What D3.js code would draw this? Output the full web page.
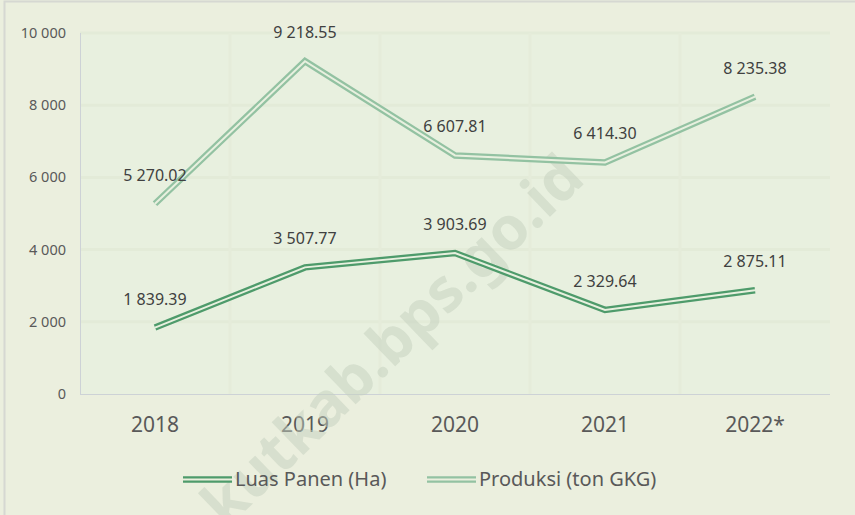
<!DOCTYPE html>
<html lang="id">
<head>
<meta charset="UTF-8">
<title>Luas Panen dan Produksi</title>
<script src="https://cdn.jsdelivr.net/npm/d3@7"></script>
<style>
  html, body { margin: 0; padding: 0; background: #ebefde; }
  svg { display: block; font-family: "Noto Sans", sans-serif; }
</style>
</head>
<body>
<script>
// data
var years = ["2018", "2019", "2020", "2021", "2022*"];
var luasPanen = [1839.39, 3507.77, 3903.69, 2329.64, 2875.11];
var produksi = [5270.02, 9218.55, 6607.81, 6414.30, 8235.38];
var yTicks = [0, 2000, 4000, 6000, 8000, 10000];
var seriesNames = ["Luas Panen (Ha)", "Produksi (ton GKG)"];

var width = 855, height = 515;
var plot = {left: 80, right: 830, top: 33, bottom: 394};
var bg = "#ebefde", plotBg = "#e8f0df";
var colors = ["#4e9b6b", "#93c2a2"];

var svg = d3.select("body").append("svg").attr("width", width).attr("height", height);

// fondo y marco
svg.append("rect").attr("width", width).attr("height", height).attr("fill", bg);
svg.append("rect").attr("x", 4.5).attr("y", 1.5).attr("width", width + 10).attr("height", height + 10)
    .attr("fill", "none").attr("stroke", "#d6d8d2").attr("stroke-width", 2);
svg.append("rect").attr("x", plot.left).attr("y", plot.top)
    .attr("width", plot.right - plot.left).attr("height", plot.bottom - plot.top)
    .attr("fill", plotBg);

// escalas
var x = d3.scalePoint().domain(years).range([plot.left, plot.right]).padding(0.5);
var y = d3.scaleLinear().domain([0, 10000]).range([plot.bottom, plot.top]);
var loc = d3.formatLocale({decimal: ".", thousands: " ", grouping: [3], currency: ["", ""]});
var fmtTick = loc.format(",.0f"), fmtVal = loc.format(",.2f");

// rejilla tenue
svg.append("g").selectAll("line").data(yTicks.slice(1)).enter().append("line")
    .attr("x1", plot.left).attr("x2", plot.right)
    .attr("y1", function (d) { return y(d); }).attr("y2", function (d) { return y(d); })
    .attr("stroke", "#e3ebd8").attr("stroke-width", 3);
var step = x.step();
svg.append("g").selectAll("line").data(years.slice(1)).enter().append("line")
    .attr("x1", function (d) { return x(d) - step / 2; }).attr("x2", function (d) { return x(d) - step / 2; })
    .attr("y1", plot.top).attr("y2", plot.bottom)
    .attr("stroke", "#e5ecda").attr("stroke-width", 3);

// ejes
svg.append("line").attr("x1", plot.left + 0.5).attr("x2", plot.left + 0.5)
    .attr("y1", plot.top).attr("y2", plot.bottom).attr("stroke", "#cdd2d6");
svg.append("line").attr("x1", plot.left).attr("x2", plot.right)
    .attr("y1", plot.bottom + 0.5).attr("y2", plot.bottom + 0.5).attr("stroke", "#cdd2d6");

svg.append("g").selectAll("text").data(yTicks).enter().append("text")
    .attr("x", 66).attr("y", function (d) { return y(d); })
    .attr("dy", "0.35em").attr("text-anchor", "end")
    .attr("font-size", 14.5).attr("fill", "#595959")
    .text(function (d) { return fmtTick(d); });

svg.append("g").selectAll("text").data(years).enter().append("text")
    .attr("x", function (d) { return x(d); }).attr("y", 432)
    .attr("text-anchor", "middle").attr("font-size", 21).attr("fill", "#595959")
    .text(function (d) { return d; });

// marca de agua
svg.append("text")
    .attr("transform", "translate(392,340) rotate(-44)")
    .attr("text-anchor", "middle").attr("dy", "0.35em")
    .attr("font-size", 60).attr("font-weight", "bold")
    .attr("fill", "#c3cfbd").attr("fill-opacity", 0.5)
    .text("kutkab.bps.go.id");

// lineas dobles
var line = d3.line()
    .x(function (d, i) { return x(years[i]); })
    .y(function (d) { return y(d); });

[luasPanen, produksi].forEach(function (vals, k) {
    svg.append("path").attr("d", line(vals)).attr("fill", "none")
        .attr("stroke", colors[k]).attr("stroke-width", 6.5).attr("stroke-linejoin", "miter");
    svg.append("path").attr("d", line(vals)).attr("fill", "none")
        .attr("stroke", plotBg).attr("stroke-width", 2).attr("stroke-linejoin", "miter");
    svg.append("g").selectAll("text").data(vals).enter().append("text")
        .attr("x", function (d, i) { return x(years[i]); })
        .attr("y", function (d) { return y(d) - 23; })
        .attr("text-anchor", "middle").attr("font-size", 16).attr("fill", "#404040")
        .text(function (d) { return fmtVal(d); });
});

// leyenda
var legendX = [183, 427];
seriesNames.forEach(function (name, k) {
    var gl = svg.append("g");
    gl.append("line").attr("x1", legendX[k]).attr("x2", legendX[k] + 49)
        .attr("y1", 479.5).attr("y2", 479.5)
        .attr("stroke", colors[k]).attr("stroke-width", 6.5);
    gl.append("line").attr("x1", legendX[k]).attr("x2", legendX[k] + 49)
        .attr("y1", 479.5).attr("y2", 479.5)
        .attr("stroke", bg).attr("stroke-width", 2);
    gl.append("text").attr("x", legendX[k] + 52).attr("y", 486)
        .attr("font-size", 20).attr("fill", "#595959").text(name);
});
</script>
</body>
</html>
